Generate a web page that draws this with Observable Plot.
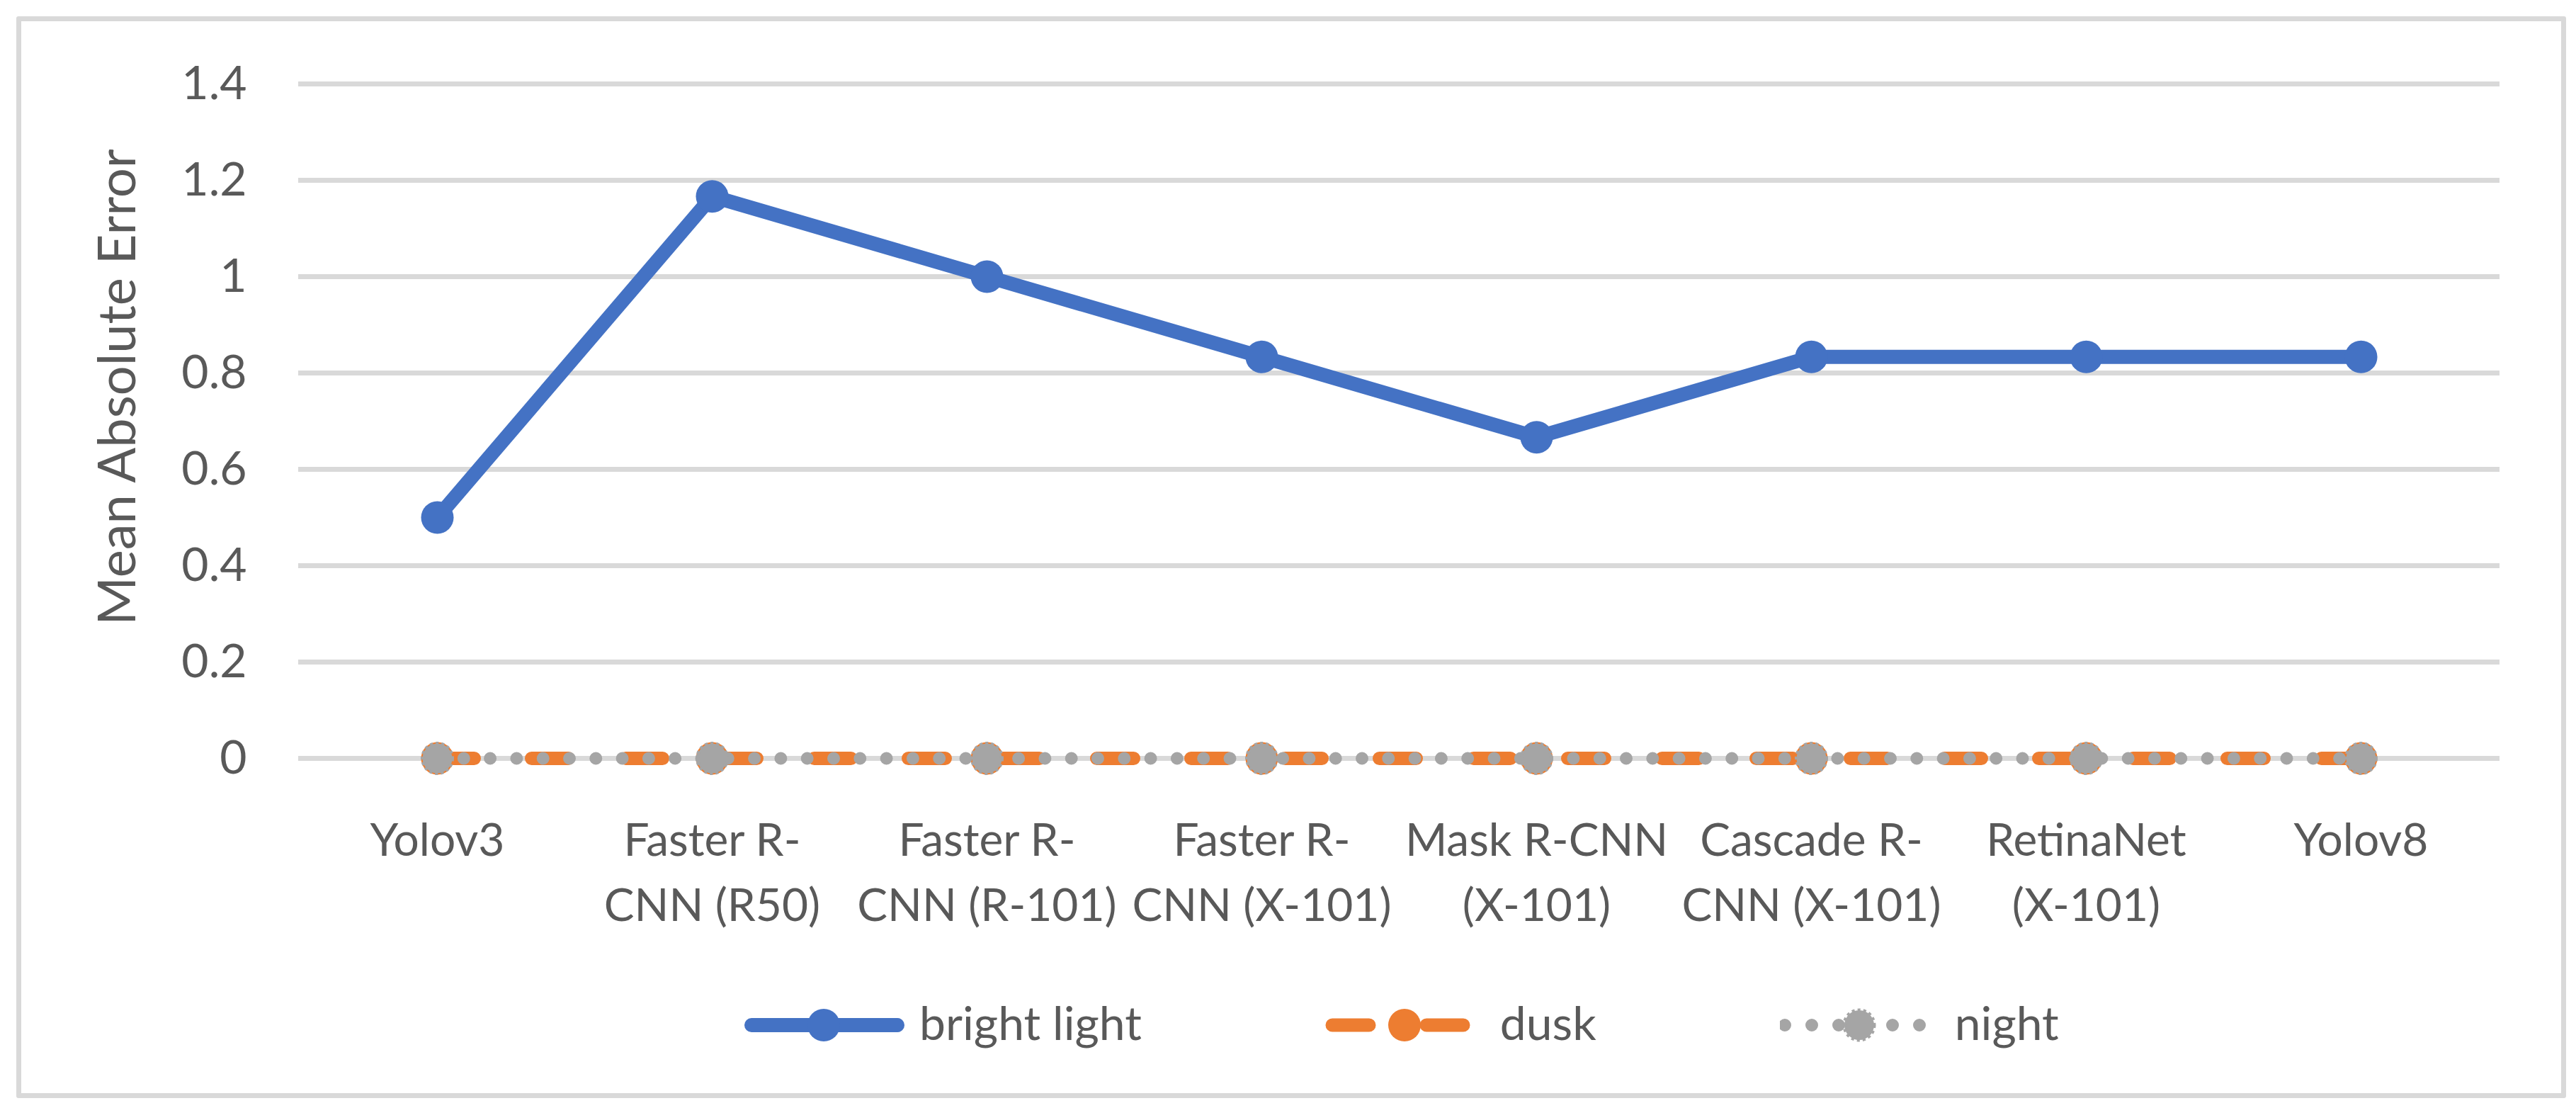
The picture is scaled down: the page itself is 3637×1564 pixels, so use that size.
<!DOCTYPE html>
<html>
<head>
<meta charset="utf-8">
<script src="https://cdn.jsdelivr.net/npm/d3@7"></script>
<script src="https://cdn.jsdelivr.net/npm/@observablehq/plot@0.6"></script>
<style>
  html, body { margin: 0; padding: 0; background: #fff; }
  body { width: 3637px; height: 1564px; position: relative; overflow: hidden;
         font-family: Lato, "Open Sans", sans-serif; color: #595959; }
  #frame { position: absolute; left: 23px; top: 23px; width: 3600px; height: 1527px;
           box-sizing: border-box; border: 7.5px solid #D9D9D9; border-radius: 3px; }
  #chart { position: absolute; left: 0; top: 0; }
  #legend { position: absolute; left: 1051px; top: 1417px; height: 60px; display: flex;
            align-items: center; gap: 259px; }
  .item { display: flex; align-items: center; height: 60px; gap: 21px; }
  .item span { font-size: 66px; line-height: 1; position: relative; top: -4px; white-space: nowrap; }
</style>
</head>
<body>
<div id="frame"></div>
<div id="chart"></div>
<div id="legend"></div>
<script>
// ---- data ----
const categories = ["Yolov3", "Faster R-CNN (R50)", "Faster R-CNN (R-101)", "Faster R-CNN (X-101)",
                    "Mask R-CNN (X-101)", "Cascade R-CNN (X-101)", "RetinaNet (X-101)", "Yolov8"];
const categoryLabels = ["Yolov3", "Faster R-\nCNN (R50)", "Faster R-\nCNN (R-101)", "Faster R-\nCNN (X-101)",
                        "Mask R-CNN\n(X-101)", "Cascade R-\nCNN (X-101)", "RetinaNet\n(X-101)", "Yolov8"];
const brightLight = [0.5, 1.1667, 1.0, 0.8333, 0.6667, 0.8333, 0.8333, 0.8333];
const dusk = [0, 0, 0, 0, 0, 0, 0, 0];
const night = [0, 0, 0, 0, 0, 0, 0, 0];
const seriesNames = ["bright light", "dusk", "night"];
const yTicks = [0, 0.2, 0.4, 0.6, 0.8, 1, 1.2, 1.4];
const yTickLabels = ["0", "0.2", "0.4", "0.6", "0.8", "1", "1.2", "1.4"];
const yTitle = "Mean Absolute Error";

// ---- styling ----
const colors = {"bright light": "#4472C4", "dusk": "#ED7D31", "night": "#A5A5A5"};
const textColor = "#595959";

const rows = (vals, s) => categories.map((c, i) => ({category: c, value: vals[i], series: s}));
const bl = rows(brightLight, "bright light");
const du = rows(dusk, "dusk");
const ni = rows(night, "night");
const labelOf = new Map(categories.map((c, i) => [c, categoryLabels[i]]));
const yLabelOf = new Map(yTicks.map((t, i) => [t, yTickLabels[i]]));

const W = 3637, H = 1345;
const chart = Plot.plot({
  width: W, height: H,
  marginLeft: 421, marginRight: 108, marginTop: 118, marginBottom: H - 1070,
  style: {fontFamily: "Lato, 'Open Sans', sans-serif", fontSize: "66px", color: textColor, background: "transparent"},
  x: {type: "point", domain: categories, padding: 0.5, axis: null},
  y: {domain: [0, 1.4], axis: null},
  marks: [
    Plot.gridY(yTicks, {stroke: "#D9D9D9", strokeOpacity: 1, strokeWidth: 7}),
    Plot.axisY(yTicks, {tickSize: 0, tickPadding: 73, tickFormat: d => yLabelOf.get(d), label: null, fill: textColor, fontSize: 66}),
    Plot.axisX({tickSize: 0, tickPadding: 72, tickFormat: d => labelOf.get(d), label: null, fill: textColor, fontSize: 64, lineHeight: 1.44}),
    Plot.text([yTitle], {frameAnchor: "left", rotate: -90, dx: -231, dy: -48, text: d => d,
                         textAnchor: "middle", lineAnchor: "bottom", fontSize: 74, fill: textColor}),
    Plot.line(bl, {x: "category", y: "value", stroke: colors["bright light"], strokeWidth: 20, strokeLinejoin: "round", strokeLinecap: "round"}),
    Plot.dot(bl, {x: "category", y: "value", r: 23, fill: colors["bright light"], stroke: "none"}),
    Plot.line(du, {x: "category", y: "value", stroke: colors["dusk"], strokeWidth: 19, strokeDasharray: "52,81", strokeLinecap: "round"}),
    Plot.dot(du, {x: "category", y: "value", r: 23, fill: colors["dusk"], stroke: "none"}),
    Plot.line(ni, {x: "category", y: "value", stroke: colors["night"], strokeWidth: 18, strokeDasharray: "0,37.3", strokeLinecap: "round"}),
    Plot.dot(ni, {x: "category", y: "value", r: 21, fill: colors["night"], stroke: colors["night"], strokeWidth: 5, strokeDasharray: "4,4"})
  ]
});
document.getElementById("chart").appendChild(chart);

// ---- legend ----
const legend = d3.select("#legend");
const swatchStyle = {
  "bright light": {w: 20, dash: null},
  "dusk": {w: 19, dash: "52,81"},
  "night": {w: 18, dash: "0,38"}
};
for (const s of seriesNames) {
  const item = legend.append("div").attr("class", "item");
  const svg = item.append("svg").attr("width", 226).attr("height", 60);
  const st = swatchStyle[s];
  const ln = svg.append("line").attr("x1", s === "night" ? 7 : 10).attr("x2", 216).attr("y1", 30).attr("y2", 30)
    .attr("stroke", colors[s]).attr("stroke-width", st.w).attr("stroke-linecap", "round");
  if (st.dash) ln.attr("stroke-dasharray", st.dash);
  const c = svg.append("circle").attr("cx", 112).attr("cy", 30).attr("r", s === "night" ? 21 : 23).attr("fill", colors[s]);
  if (s === "night") c.attr("stroke", colors[s]).attr("stroke-width", 5).attr("stroke-dasharray", "4,4");
  item.append("span").text(s);
}
</script>
</body>
</html>
